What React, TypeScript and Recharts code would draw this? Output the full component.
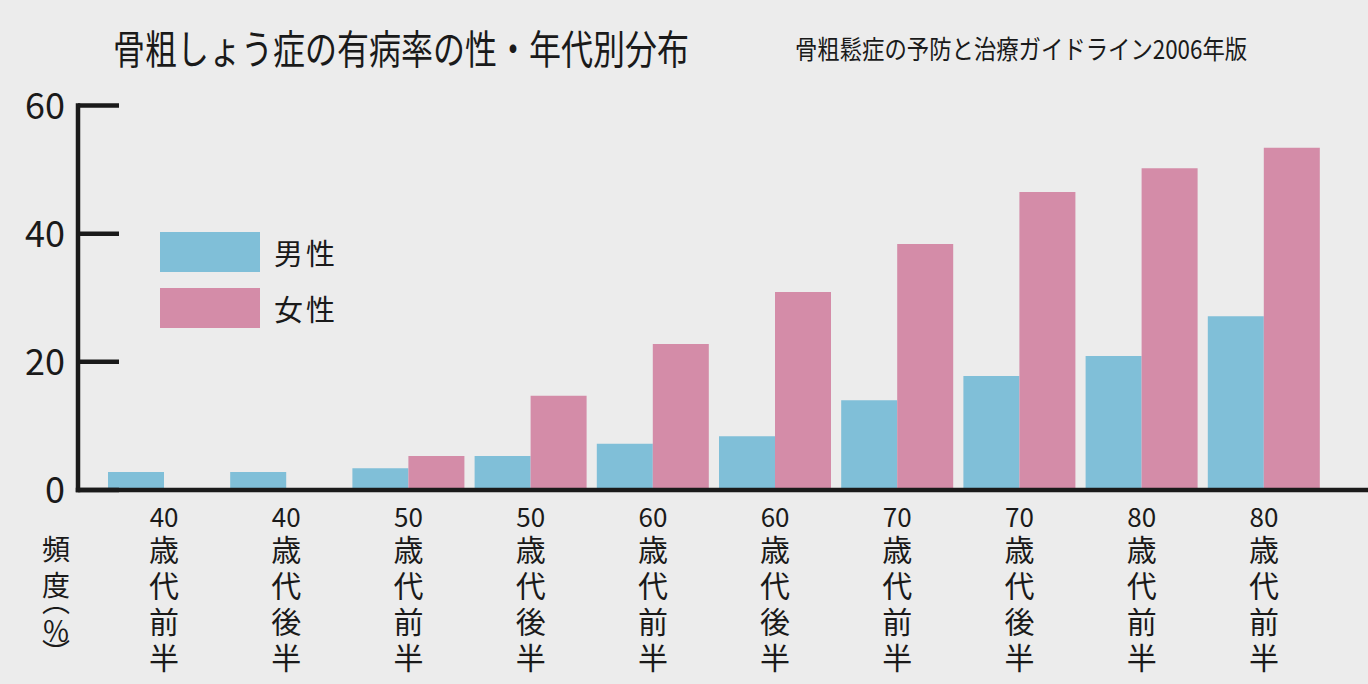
import { BarChart, Bar, XAxis, YAxis, Legend } from 'recharts';

// 年代（原図のまま最後も「80歳代前半」）
const categories = [
  '40歳代前半', '40歳代後半', '50歳代前半', '50歳代後半', '60歳代前半',
  '60歳代後半', '70歳代前半', '70歳代後半', '80歳代前半', '80歳代前半',
];
const maleRates = [2.8, 2.8, 3.4, 5.3, 7.2, 8.4, 14.0, 17.8, 20.9, 27.1];
const femaleRates = [0, 0, 5.3, 14.7, 22.8, 30.9, 38.4, 46.5, 50.2, 53.4];
const yTicks = [0, 20, 40, 60];

const maleName = '男性';
const femaleName = '女性';
const seriesOrder = [maleName, femaleName];
const title = '骨粗しょう症の有病率の性・年代別分布';
const source = '骨粗鬆症の予防と治療ガイドライン2006年版';

const data = categories.map((label, i) => ({
  label,
  male: maleRates[i],
  female: femaleRates[i],
}));

const FONT = '"Noto Sans CJK JP", "Noto Sans", sans-serif';
const INK = '#1a1a1a';
const BLUE = '#80bfd8';
const PINK = '#d48ca8';

// 縦書きのx軸ラベル: 数字は横、残りは縦書き
const XTick = ({ x, y, payload }: any) => {
  const text = String(payload.value);
  const m = text.match(/^(\d+)(.*)$/);
  const num = m ? m[1] : '';
  const rest = m ? m[2] : text;
  return (
    <g fill={INK} fontFamily={FONT}>
      <text x={x} y={y + 37} fontSize={26} textAnchor="middle">{num}</text>
      <text x={x} y={y + 45} fontSize={30} style={{ writingMode: 'vertical-rl', letterSpacing: 6 }}>
        {rest}
      </text>
    </g>
  );
};

// 目盛り線は内側（右）へ
const YTick = ({ x, y, payload }: any) => (
  <g>
    <line x1={x} x2={x + 41} y1={y} y2={y} stroke={INK} strokeWidth={4.5} />
    <text x={x - 13} y={y + 13} textAnchor="end" fontSize={36} fill={INK} fontFamily={FONT}>
      {payload.value}
    </text>
  </g>
);

const YLabel = ({ viewBox }: any) => {
  const vb = viewBox ?? { x: 0, y: 105.5, width: 78, height: 384.5 };
  const cx = vb.x + 56;
  const bottom = vb.y + vb.height;
  return (
    <text x={cx} y={bottom + 45} fill={INK} fontFamily={FONT} fontSize={28}
      style={{ writingMode: 'vertical-rl' }}>
      <tspan style={{ letterSpacing: 8 }}>頻度</tspan>
      <tspan dy={-20} style={{ letterSpacing: 2 }}>（</tspan>
      <tspan style={{ letterSpacing: 0 }}>％</tspan>
      <tspan dy={-6}>）</tspan>
    </text>
  );
};

const LegendContent = ({ payload }: any) => {
  const items = [...(payload || [])].sort(
    (a: any, b: any) => seriesOrder.indexOf(a.value) - seriesOrder.indexOf(b.value),
  );
  return (
    <div style={{ display: 'flex', flexDirection: 'column', gap: 16 }}>
      {items.map((item: any) => (
        <div key={item.value} style={{ display: 'flex', alignItems: 'center' }}>
          <div style={{ width: 100, height: 40, background: item.color }} />
          <span style={{ marginLeft: 14, fontSize: 29, letterSpacing: 3, color: INK, fontFamily: FONT, lineHeight: '40px' }}>
            {item.value}
          </span>
        </div>
      ))}
    </div>
  );
};

export default function App() {
  return (
    <div style={{ position: 'relative', width: 1368, height: 684, background: '#ececec', overflow: 'hidden' }}>
      <style>{`body{margin:0}`}</style>
      <div style={{
        position: 'absolute', left: 113, top: 27, fontSize: 40, lineHeight: '40px', fontFamily: FONT,
        color: INK, whiteSpace: 'nowrap', transform: 'scaleX(0.8)', transformOrigin: 'left top',
      }}>{title}</div>
      <div style={{
        position: 'absolute', left: 795, top: 35, fontSize: 26, lineHeight: '26px', fontFamily: FONT,
        color: INK, whiteSpace: 'nowrap', transform: 'scaleX(0.86)', transformOrigin: 'left top',
      }}>{source}</div>
      <BarChart
        width={1368}
        height={684}
        data={data}
        margin={{ top: 105.5, right: 0, bottom: 0, left: 0 }}
        barCategoryGap={5}
        barGap={0}
      >
        <XAxis
          dataKey="label"
          height={194}
          interval={0}
          padding={{ left: 25, right: 43 }}
          tickLine={false}
          tickSize={0}
          tickMargin={0}
          axisLine={{ stroke: INK, strokeWidth: 4.5, strokeLinecap: 'square' }}
          tick={<XTick />}
        />
        <YAxis
          width={78}
          domain={[0, 60]}
          ticks={yTicks}
          tickLine={false}
          tickSize={0}
          tickMargin={0}
          axisLine={{ stroke: INK, strokeWidth: 4.5, strokeLinecap: 'square' }}
          tick={<YTick />}
          label={{ content: <YLabel /> }}
        />
        <Legend
          layout="vertical"
          align="center"
          verticalAlign="middle"
          content={<LegendContent />}
          wrapperStyle={{ left: 160, top: 232, width: 'auto' }}
        />
        <Bar dataKey="male" name={maleName} fill={BLUE} isAnimationActive={false} />
        <Bar dataKey="female" name={femaleName} fill={PINK} isAnimationActive={false} />
      </BarChart>
    </div>
  );
}
